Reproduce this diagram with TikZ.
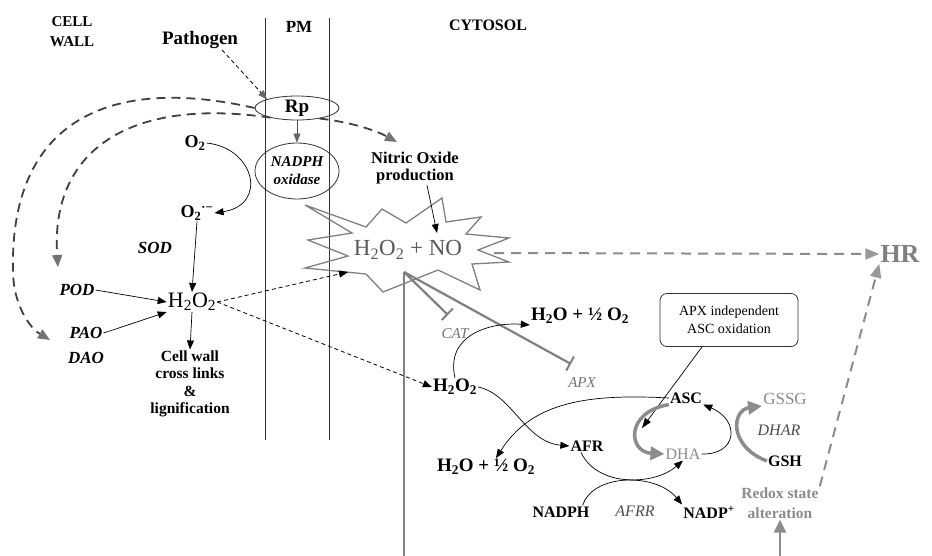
\documentclass[tikz,border=0pt]{standalone}
\usepackage{fontspec}
\setmainfont{Liberation Serif}
\usetikzlibrary{arrows.meta,shapes.geometric}
\newcommand\fsz[2]{\fontsize{#1}{#2}\selectfont}
\begin{document}
\begin{tikzpicture}[x=1pt,y=-1pt,
  txt/.style={inner sep=1pt, align=center, text=black},
  bsm/.style={txt, font=\bfseries\fsz{16}{19}},
  bit/.style={txt, font=\bfseries\itshape\fsz{17}{20}},
  gtxt/.style={txt, text=black!55},
  blk/.style={line width=0.7pt, -{Triangle[length=9pt,width=7pt]}},
  dthin/.style={line width=0.8pt, dash pattern=on 4pt off 3pt, -{Triangle[length=9pt,width=7pt]}},
  dthick/.style={line width=1.8pt, draw=black!75, dash pattern=on 9pt off 6pt, -{Triangle[length=12pt,width=10pt,color=black!55,fill=black!55]}},
  dgray/.style={line width=2pt, draw=black!45, dash pattern=on 10pt off 7pt, -{Triangle[length=14pt,width=11pt,color=black!40,fill=black!40]}},
  gthick/.style={line width=3.5pt, draw=black!45, -{Triangle[length=14pt,width=13pt]}},
  gline/.style={line width=2.2pt, draw=black!50},
  memb/.style={line width=0.9pt, draw=black!80},
]
\useasboundingbox[fill=white] (0,0) rectangle (932,555);

% membrane
\coordinate (m1t) at (265,18); \coordinate (m1b) at (265,440);
\coordinate (m2t) at (329,18); \coordinate (m2b) at (329,440);
\draw[memb] (m1t) -- (m1b);
\draw[memb] (m2t) -- (m2b);

% headers
\node[txt, font=\bfseries\fsz{15}{20}] (cw) at (72,32) {CELL\\WALL};
\node[txt, font=\bfseries\fsz{19}{22}] (pat) at (200,40) {Pathogen};
\node[txt, font=\bfseries\fsz{17}{20}] (pm) at (299,27) {PM};
\node[txt, font=\bfseries\fsz{16}{19}] (cyt) at (488,25) {CYTOSOL};

% receptor and oxidase
\node[ellipse, draw=black!80, line width=0.8pt, minimum width=84pt, minimum height=24pt, inner sep=0pt, font=\bfseries\fsz{19}{22}] (rp) at (297,108) {Rp};
\node[ellipse, draw=black!80, line width=0.8pt, minimum width=84pt, minimum height=56pt, inner sep=0pt, align=center, font=\bfseries\itshape\fsz{15}{18}] (nox) at (297,171) {NADPH\\oxidase};

% left side species
\node[txt, font=\bfseries\fsz{18}{20}] (o2) at (195,143) {O\textsubscript{2}};
\node[txt, font=\bfseries\fsz{18}{20}] (o2r) at (197,213) {O\textsubscript{2}\textsuperscript{·−}};
\node[bit] (sod) at (155,248) {SOD};
\node[bit] (pod) at (77,290) {POD};
\node[bit] (pao) at (86,333) {PAO};
\node[bit] (dao) at (86,358) {DAO};
\node[txt, font=\fsz{22}{24}] (hl) at (192,302) {H\textsubscript{2}O\textsubscript{2}};
\node[txt, font=\bfseries\fsz{15.5}{17.5}] (cwl) at (190,384) {Cell wall\\cross links\\\&\\lignification};

\node[txt, font=\bfseries\fsz{16.5}{17}] (no) at (415,168) {Nitric Oxide\\production};

% starburst
\draw[line width=1.3pt, draw=black!50] (305,205) -- (366,227) -- (382,209) -- (406,223) -- (442,198) -- (446,222) -- (481,217) -- (466,234) -- (509,238) -- (478,250) -- (509,262) -- (472,264) -- (480,290) -- (438,270) -- (383,292) -- (366,274) -- (305,268) -- (348,256) -- (308,240) -- (352,233) -- cycle;
\node[txt, text=black!65, font=\fsz{23}{25}] (sb) at (408,250) {H\textsubscript{2}O\textsubscript{2} + NO};
\coordinate (sbl) at (348,272);
\coordinate (sbr) at (494,253);
\coordinate (sbb) at (404,272);
\coordinate (sbn) at (437,233);

\node[txt, text=black!50, font=\bfseries\fsz{26}{28}] (hr) at (900,254) {HR};

% right side
\node[txt, font=\bfseries\fsz{19}{21}] (h2ou) at (580,316) {H\textsubscript{2}O + ½ O\textsubscript{2}};
\node[txt, font=\bfseries\fsz{19}{21}] (h2o2r) at (455,387) {H\textsubscript{2}O\textsubscript{2}};
\node[gtxt, font=\itshape\fsz{15}{17}] (cat) at (455,334) {CAT};
\node[gtxt, font=\itshape\fsz{15}{17}] (apx) at (582,383) {APX};
\node[bsm] (afr) at (587,446) {AFR};
\node[txt, font=\bfseries\fsz{19}{21}] (h2ol) at (486,467) {H\textsubscript{2}O + ½ O\textsubscript{2}};
\node[bsm] (nadph) at (561,512) {NADPH};
\node[txt, text=black!70, font=\itshape\fsz{16}{18}] (afrr) at (635,511) {AFRR};
\node[bsm] (nadp) at (709,512) {NADP\textsuperscript{+}};
\node[gtxt, text=black!45, font=\fsz{16}{18}] (dha) at (683,454) {DHA};
\node[bsm] (asc) at (686,398) {ASC};
\node[gtxt, text=black!45, font=\fsz{17}{19}] (gssg) at (785,399) {GSSG};
\node[txt, text=black!70, font=\itshape\fsz{16}{18}] (dhar) at (779,430) {DHAR};
\node[bsm] (gsh) at (785,461) {GSH};
\node[gtxt, text=black!45, font=\bfseries\fsz{15.5}{20}] (redox) at (780,503) {Redox state\\alteration};
\node[draw=black!80, line width=0.8pt, rounded corners=7pt, minimum width=138pt, minimum height=53pt, align=center, font=\fsz{14}{18}] (box) at (729,320) {APX independent\\ASC oxidation};

% coordinates for T-bars and free ends
\coordinate (catT) at (448,315);
\coordinate (apxT) at (571,364);
\coordinate (bot1) at (404,556);
\coordinate (bot2) at (780,556);

% connectors: top
\draw[dthin, -{Triangle[length=9pt,width=7pt,color=black!60,fill=black!60]}] ([xshift=22pt]pat.south) -- (rp.north west);
\draw[blk, draw=black!70, -{Triangle[length=9pt,width=7pt,color=black!60,fill=black!60]}] (rp.south) -- (nox.north);
\draw[blk] (o2.east) .. controls (255,148) and (268,205) .. (o2r.east);
\draw[blk] (o2r.south) -- (hl.north);
\draw[blk] (pod.east) -- (hl.west);
\draw[blk] (pao.east) -- (hl.south west);
\draw[blk] (hl.south) -- (cwl.north);

% dashed arcs from Rp
\draw[dthick] (rp.west) .. controls (110,75) and (10,120) .. (13,270) .. controls (13,305) and (30,328) .. (50,340);
\draw[dthick] (rp.200) .. controls (130,97) and (50,150) .. (58,267);
\draw[dthick] (rp.-25) .. controls (350,122) and (375,130) .. (397,142);

% to starburst
\draw[blk] ([xshift=12pt]no.south) -- (sbn);
\draw[dthin] (hl.east) -- (sbl);
\draw[dthin] (hl.east) -- (h2o2r.west);

% starburst outputs
\draw[dgray] (sbr) -- (hr.west);
\draw[gline] (sbb) -- (bot1);
\draw[gline, -{Bar[width=16pt,line width=2pt]}] (sbb) -- (catT);
\draw[gline, -{Bar[width=16pt,line width=2pt]}] (sbb) -- (apxT);
\draw[dgray] (redox.north east) -- (hr.south west);
\draw[line width=2.2pt, draw=black!45, -{Triangle[length=13pt,width=12pt,color=black!45,fill=black!45]}] (bot2) -- (redox.south);

% cytosol reactions
\draw[blk] (h2o2r.north) .. controls (445,335) and (490,322) .. (h2ou.south west);
\draw[blk] (h2o2r.east) .. controls (512,394) and (525,442) .. (afr.west);
\draw[blk] (asc.west) .. controls (580,393) and (530,405) .. ([xshift=10pt]h2ol.north);
\draw[blk] ([xshift=-6pt]afr.south) .. controls (598,488) and (655,485) .. (dha.south);
\draw[blk] ([xshift=-8pt]nadph.north east) .. controls (592,474) and (655,472) .. (nadp.north west);
\draw[line width=0.7pt, -{Triangle[length=10pt,width=7pt]}] ([xshift=-27pt]box.south) -- (642,428);
\draw[gthick] (asc.south west) .. controls (625,412) and (628,452) .. (dha.west);
\draw[blk] (dha.east) .. controls (738,455) and (740,420) .. (asc.south east);
\draw[gthick] (gsh.west) .. controls (728,446) and (732,410) .. (gssg.south west);
\end{tikzpicture}
\end{document}
